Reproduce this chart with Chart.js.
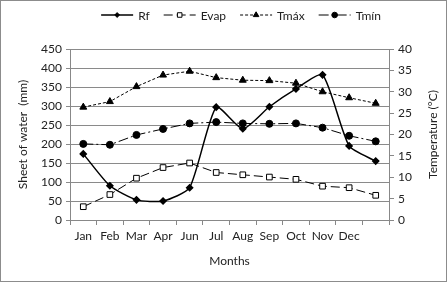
<!DOCTYPE html>
<html>
<head>
<meta charset="utf-8">
<script src="https://cdn.jsdelivr.net/npm/chart.js@4.4.1/dist/chart.umd.min.js"></script>
<style>
  body { margin: 0; background: #fff; }
  canvas { display: block; }
</style>
</head>
<body>
<canvas id="myChart" width="447" height="282"></canvas>
<script>
// Chart data
const months = ['Jan', 'Feb', 'Mar', 'Apr', 'Jun', 'Jul', 'Aug', 'Sep', 'Oct', 'Nov', 'Dec', ''];
const rainfall = [174, 90, 53, 50, 85, 297, 240, 298, 345, 382, 195, 155];   // mm
const evap = [35, 67, 110, 138, 150, 125, 119, 113, 107, 89, 85, 65];        // mm
const tmax = [26.4, 27.7, 31.2, 33.9, 34.8, 33.3, 32.7, 32.6, 32.0, 30.0, 28.6, 27.3]; // °C
const tmin = [17.8, 17.6, 19.9, 21.3, 22.6, 22.9, 22.6, 22.5, 22.6, 21.6, 19.7, 18.4]; // °C

const FONT = 'Lato, "Liberation Sans", sans-serif';
const TEXT = '#222';
const rightTitle = 'Temperature (°C)';

// draws the legend with a line sample + marker for each series
const lineLegend = {
    id: 'lineLegend',
    afterDraw(chart) {
        const ctx = chart.ctx;
        const y = 15;
        const lineW = 32;
        ctx.save();
        ctx.font = '12px ' + FONT;
        const items = chart.data.datasets.map(ds => ({ ds, w: ctx.measureText(ds.label).width }));
        const total = items.reduce((s, it) => s + lineW + 5 + it.w, 0) + 14 * (items.length - 1);
        let x = 241 - total / 2;
        items.forEach(it => {
            const ds = it.ds;
            ctx.strokeStyle = ds.borderColor;
            ctx.lineWidth = ds.borderWidth;
            ctx.setLineDash(ds.borderDash || []);
            ctx.beginPath();
            ctx.moveTo(x, y);
            ctx.lineTo(x + lineW, y);
            ctx.stroke();
            ctx.setLineDash([]);
            ctx.fillStyle = ds.pointBackgroundColor;
            ctx.strokeStyle = ds.pointBorderColor;
            ctx.lineWidth = 1;
            Chart.helpers.drawPoint(ctx, {
                pointStyle: ds.pointStyle,
                radius: ds.pointRadius * 0.8,
                rotation: 0,
                borderWidth: 1
            }, x + lineW / 2, y);
            ctx.fillStyle = TEXT;
            ctx.textBaseline = 'middle';
            ctx.textAlign = 'left';
            ctx.fillText(ds.label, x + lineW + 5, y + 1);
            x += lineW + 5 + it.w + 14;
        });
        ctx.restore();
    }
};

// right axis title reads bottom-to-top like the left one
const rightAxisTitle = {
    id: 'rightAxisTitle',
    afterDraw(chart) {
        const ctx = chart.ctx;
        const area = chart.chartArea;
        ctx.save();
        ctx.translate(433, (area.top + area.bottom) / 2);
        ctx.rotate(-Math.PI / 2);
        ctx.font = '12px ' + FONT;
        ctx.fillStyle = TEXT;
        ctx.textAlign = 'center';
        ctx.textBaseline = 'middle';
        ctx.fillText(rightTitle, 0, 0);
        ctx.restore();
    }
};

// grey frame round the whole chart
const outerFrame = {
    id: 'outerFrame',
    afterDraw(chart) {
        const ctx = chart.ctx;
        ctx.save();
        ctx.strokeStyle = '#8c8c8c';
        ctx.lineWidth = 1;
        ctx.strokeRect(0.5, 0.5, chart.width - 1, chart.height - 1);
        ctx.restore();
    }
};

const ctx = document.getElementById('myChart').getContext('2d');
new Chart(ctx, {
    type: 'line',
    data: {
        labels: months,
        datasets: [{
            label: 'Rf',
            data: rainfall,
            yAxisID: 'y',
            borderColor: '#000',
            borderWidth: 1.5,
            tension: 0.2,
            pointStyle: 'rectRot',
            pointRadius: 3,
            pointBackgroundColor: '#000',
            pointBorderColor: '#000'
        }, {
            label: 'Evap',
            data: evap,
            yAxisID: 'y',
            borderColor: '#000',
            borderWidth: 1,
            borderDash: [9, 4],
            pointStyle: 'rect',
            pointRadius: 4,
            pointBackgroundColor: '#fff',
            pointBorderColor: '#000'
        }, {
            label: 'Tmáx',
            data: tmax,
            yAxisID: 'y1',
            borderColor: '#000',
            borderWidth: 1,
            borderDash: [3, 2],
            pointStyle: 'triangle',
            pointRadius: 4,
            pointBackgroundColor: '#000',
            pointBorderColor: '#000'
        }, {
            label: 'Tmín',
            data: tmin,
            yAxisID: 'y1',
            borderColor: '#000',
            borderWidth: 1,
            borderDash: [10, 3, 2, 3],
            pointStyle: 'circle',
            pointRadius: 3.5,
            pointBackgroundColor: '#000',
            pointBorderColor: '#000'
        }]
    },
    options: {
        responsive: false,
        animation: false,
        layout: {
            padding: { left: 0, right: 0, top: 49, bottom: 0 }
        },
        plugins: {
            legend: { display: false },
            tooltip: { enabled: false }
        },
        scales: {
            x: {
                offset: true,
                grid: {
                    offset: true,
                    drawOnChartArea: false,
                    tickLength: 5,
                    color: '#888'
                },
                border: { color: '#888' },
                ticks: {
                    color: TEXT,
                    font: { family: FONT, size: 12 },
                    padding: 4,
                    maxRotation: 0,
                    autoSkip: false
                },
                title: {
                    display: true,
                    text: 'Months',
                    color: TEXT,
                    font: { family: FONT, size: 12 },
                    padding: { top: 6, bottom: 14 }
                },
                afterFit: s => { s.height = 62; }
            },
            y: {
                position: 'left',
                min: 0,
                max: 450,
                ticks: {
                    stepSize: 50,
                    color: TEXT,
                    font: { family: FONT, size: 12 },
                    padding: 4
                },
                grid: {
                    color: '#8a8a8a',
                    tickLength: 4
                },
                border: { color: '#888' },
                title: {
                    display: true,
                    text: 'Sheet of water  (mm)',
                    color: TEXT,
                    font: { family: FONT, size: 12 },
                    padding: { top: 16, bottom: 0 }
                },
                afterFit: s => { s.width = 70; }
            },
            y1: {
                position: 'right',
                min: 0,
                max: 40,
                ticks: {
                    stepSize: 5,
                    color: TEXT,
                    font: { family: FONT, size: 12 },
                    padding: 4
                },
                grid: {
                    drawOnChartArea: false,
                    tickLength: 5,
                    color: '#888'
                },
                border: { color: '#888' },
                afterFit: s => { s.width = 58; }
            }
        }
    },
    plugins: [lineLegend, rightAxisTitle, outerFrame]
});
</script>
</body>
</html>
